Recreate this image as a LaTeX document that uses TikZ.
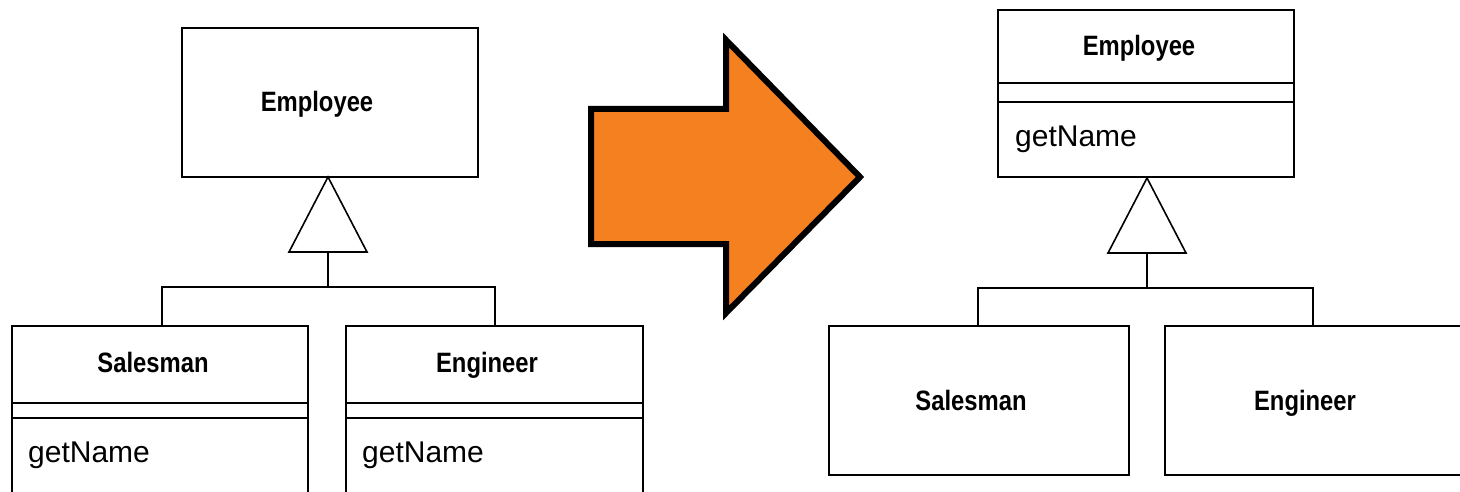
\documentclass[tikz,border=0pt]{standalone}
\usepackage{fontspec}
\setmainfont{Liberation Sans}
\usetikzlibrary{calc}
\definecolor{arroworange}{RGB}{244,128,32}
\newcommand{\clsname}[1]{\scalebox{0.85}[1]{\fontsize{28}{28}\selectfont\bfseries #1}}
\tikzset{
  box/.style={draw, line width=2pt, rectangle, inner sep=0pt},
  cname/.style={inner sep=0pt, anchor=base},
  meth/.style={inner sep=0pt, anchor=base west, font=\fontsize{30}{30}\selectfont},
  link/.style={line width=2pt},
  gen/.style={line width=1.6pt, line join=miter},
}
\begin{document}
\begin{tikzpicture}[x=1pt, y=-1pt]
\useasboundingbox (0,0) rectangle (1460,492);
\clip (0,0) rectangle (1460,492);

% ---------- before: getName in every subclass ----------
\node[box, minimum width=296pt, minimum height=149pt] (emp1) at (330,102.5) {};
\node[cname] (emp1t) at (317,112) {\clsname{Employee}};

\node[box, minimum width=296pt, minimum height=200pt] (sal1) at (160,426) {};
\node[cname] (sal1t) at (153,372) {\clsname{Salesman}};
\draw[link] (sal1.west |- 0,403) -- (sal1.east |- 0,403);
\draw[link] (sal1.west |- 0,418) -- (sal1.east |- 0,418);
\node[meth] (sal1m) at (28,462) {getName};

\node[box, minimum width=297pt, minimum height=200pt] (eng1) at (494.5,426) {};
\node[cname] (eng1t) at (487,372) {\clsname{Engineer}};
\draw[link] (eng1.west |- 0,403) -- (eng1.east |- 0,403);
\draw[link] (eng1.west |- 0,418) -- (eng1.east |- 0,418);
\node[meth] (eng1m) at (362,462) {getName};

% generalization
\coordinate (tip1) at (328,177);
\coordinate (base1) at ($(tip1)+(0,75)$);
\coordinate (j1) at ($(tip1)+(0,110)$);
\draw[gen] (tip1) -- ($(base1)+(-39,0)$) -- ($(base1)+(39,0)$) -- cycle;
\draw[link] (base1) -- (j1);
\draw[link] (sal1.north -| 162,0) |- (j1) -| (eng1.north -| 495,0);

% ---------- transition arrow ----------
\draw[line width=6pt, line join=miter, fill=arroworange]
  (591,109) -- (726,109) -- (726,40) -- (860,177) -- (726,313)
  -- (726,244) -- (591,244) -- cycle;

% ---------- after: getName pulled up ----------
\node[box, minimum width=296pt, minimum height=167pt] (emp2) at (1146,93.5) {};
\node[cname] (emp2t) at (1139,56) {\clsname{Employee}};
\draw[link] (emp2.west |- 0,83) -- (emp2.east |- 0,83);
\draw[link] (emp2.west |- 0,102) -- (emp2.east |- 0,102);
\node[meth] (emp2m) at (1015,147) {getName};

\node[box, minimum width=300pt, minimum height=149pt] (sal2) at (979,400.5) {};
\node[cname] (sal2t) at (971,410) {\clsname{Salesman}};

\node[box, minimum width=297pt, minimum height=149pt] (eng2) at (1313.5,400.5) {};
\node[cname] (eng2t) at (1305,410) {\clsname{Engineer}};

\coordinate (tip2) at (emp2.south -| 1147,0);
\coordinate (base2) at ($(tip2)+(0,75)$);
\coordinate (j2) at ($(tip2)+(0,110)$);
\draw[gen] (tip2) -- ($(base2)+(-39,0)$) -- ($(base2)+(39,0)$) -- cycle;
\draw[link] (base2) -- (j2);
\draw[link] (sal2.north -| 978,0) |- (j2) -| (eng2.north -| 1313,0);
\end{tikzpicture}
\end{document}
